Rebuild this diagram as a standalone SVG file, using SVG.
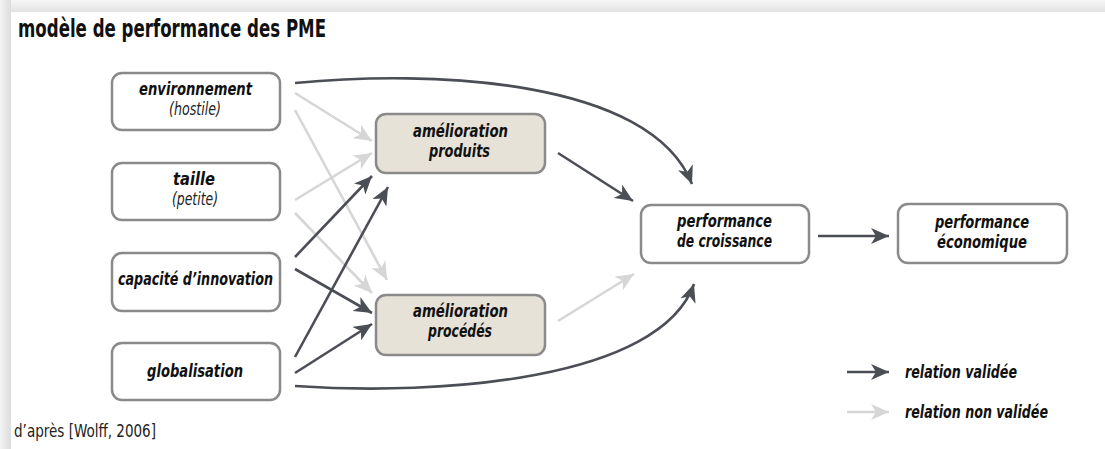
<svg xmlns="http://www.w3.org/2000/svg" width="1105" height="449" viewBox="0 0 1105 449">
<style>
.box{fill:#ffffff;stroke:#8a8a8a;stroke-width:2.5}
.box2{fill:#e6e2d8;stroke:#8a8a8a;stroke-width:2.5}
.t{font-family:"Liberation Sans Narrow","DejaVu Sans Condensed","Liberation Sans",sans-serif;font-style:italic;font-weight:bold;font-size:18px;fill:#111}
.s{font-family:"Liberation Sans Narrow","DejaVu Sans Condensed","Liberation Sans",sans-serif;font-style:italic;font-size:17px;fill:#222}
.dark{fill:none;stroke:#4b4e55;stroke-width:2.6;marker-end:url(#ad)}
.light{fill:none;stroke:#d6d6d6;stroke-width:2.6;marker-end:url(#al)}
</style>
<defs>
<marker id="ad" markerUnits="userSpaceOnUse" markerWidth="20" markerHeight="16" refX="18" refY="8" orient="auto">
<path d="M0,0 L18,8 L0,16 L5,8 Z" fill="#4b4e55"/>
</marker>
<marker id="al" markerUnits="userSpaceOnUse" markerWidth="20" markerHeight="16" refX="18" refY="8" orient="auto">
<path d="M0,0 L18,8 L0,16 L5,8 Z" fill="#d6d6d6"/>
</marker>
<linearGradient id="gl" x1="0" x2="1" y1="0" y2="0"><stop offset="0" stop-color="#f4f4f4"/><stop offset="1" stop-color="#dcdcdc"/></linearGradient>
<linearGradient id="gt" x1="0" x2="0" y1="0" y2="1"><stop offset="0" stop-color="#f6f6f6"/><stop offset="1" stop-color="#e2e2e2"/></linearGradient>
</defs>
<rect x="0" y="0" width="1105" height="449" fill="#f2f2f2"/>
<rect x="0" y="0" width="1105" height="12" fill="url(#gt)"/>
<rect x="0" y="0" width="11" height="449" fill="url(#gl)"/>
<rect x="11" y="12" width="1094" height="437" fill="#ffffff"/>

<text x="18" y="37" font-family="'Liberation Sans Narrow','DejaVu Sans Condensed','Liberation Sans',sans-serif" font-weight="bold" font-size="24" fill="#111" textLength="308" lengthAdjust="spacingAndGlyphs">modèle de performance des PME</text>

<g id="connectors">
<path class="light" d="M295,93 L372,141"/>
<path class="light" d="M295,200 L372,153"/>
<path class="light" d="M295,110 L387,280"/>
<path class="light" d="M295,213 L372,293"/>
<path class="light" d="M558,321 L634,274"/>
<path class="dark" d="M295,83 C430,70 650,78 692,184"/>
<path class="dark" d="M558,153 L633,201"/>
<path class="dark" d="M295,386 C440,396 660,380 694,284"/>
<path class="dark" d="M818,236 L889,236"/>
<path class="dark" d="M295,257 L372,176"/>
<path class="dark" d="M295,357 L388,187"/>
<path class="dark" d="M295,269 L372,313"/>
<path class="dark" d="M295,373 L372,324"/>
</g>

<g id="n-environnement">
<rect class="box" x="112" y="73" width="168" height="57" rx="10"/>
<text class="t" x="139" y="95" textLength="113" lengthAdjust="spacingAndGlyphs">environnement</text>
<text class="s" x="169" y="115" textLength="52" lengthAdjust="spacingAndGlyphs">(hostile)</text>
</g>
<g id="n-taille">
<rect class="box" x="112" y="163" width="168" height="57" rx="10"/>
<text class="t" x="173" y="185" textLength="42" lengthAdjust="spacingAndGlyphs">taille</text>
<text class="s" x="172" y="205" textLength="46" lengthAdjust="spacingAndGlyphs">(petite)</text>
</g>
<g id="n-capacite">
<rect class="box" x="112" y="253" width="168" height="58" rx="10"/>
<text class="t" x="118" y="285" textLength="155" lengthAdjust="spacingAndGlyphs">capacité d’innovation</text>
</g>
<g id="n-globalisation">
<rect class="box" x="112" y="343" width="168" height="57" rx="10"/>
<text class="t" x="147" y="377" textLength="96" lengthAdjust="spacingAndGlyphs">globalisation</text>
</g>
<g id="n-produits">
<rect class="box2" x="376" y="114" width="169" height="59" rx="10"/>
<text class="t" x="413" y="137" textLength="95" lengthAdjust="spacingAndGlyphs">amélioration</text>
<text class="t" x="429" y="157" textLength="61" lengthAdjust="spacingAndGlyphs">produits</text>
</g>
<g id="n-procedes">
<rect class="box2" x="376" y="295" width="169" height="60" rx="10"/>
<text class="t" x="413" y="317" textLength="95" lengthAdjust="spacingAndGlyphs">amélioration</text>
<text class="t" x="428" y="337" textLength="64" lengthAdjust="spacingAndGlyphs">procédés</text>
</g>
<g id="n-croissance">
<rect class="box" x="641" y="205" width="168" height="58" rx="10"/>
<text class="t" x="677" y="227" textLength="95" lengthAdjust="spacingAndGlyphs">performance</text>
<text class="t" x="677" y="247" textLength="95" lengthAdjust="spacingAndGlyphs">de croissance</text>
</g>
<g id="n-economique">
<rect class="box" x="898" y="204" width="169" height="59" rx="10"/>
<text class="t" x="935" y="228" textLength="94" lengthAdjust="spacingAndGlyphs">performance</text>
<text class="t" x="937" y="248" textLength="90" lengthAdjust="spacingAndGlyphs">économique</text>
</g>

<g id="legend">
<path class="dark" d="M847,372 L889,372"/>
<text class="t" x="905" y="378" textLength="112" lengthAdjust="spacingAndGlyphs">relation validée</text>
<path class="light" d="M847,412 L889,412"/>
<text class="t" x="905" y="418" textLength="143" lengthAdjust="spacingAndGlyphs">relation non validée</text>
</g>

<text x="14" y="437" font-family="'Liberation Sans Narrow','DejaVu Sans Condensed','Liberation Sans',sans-serif" font-size="17" fill="#222" textLength="142" lengthAdjust="spacingAndGlyphs">d’après [Wolff, 2006]</text>
</svg>
